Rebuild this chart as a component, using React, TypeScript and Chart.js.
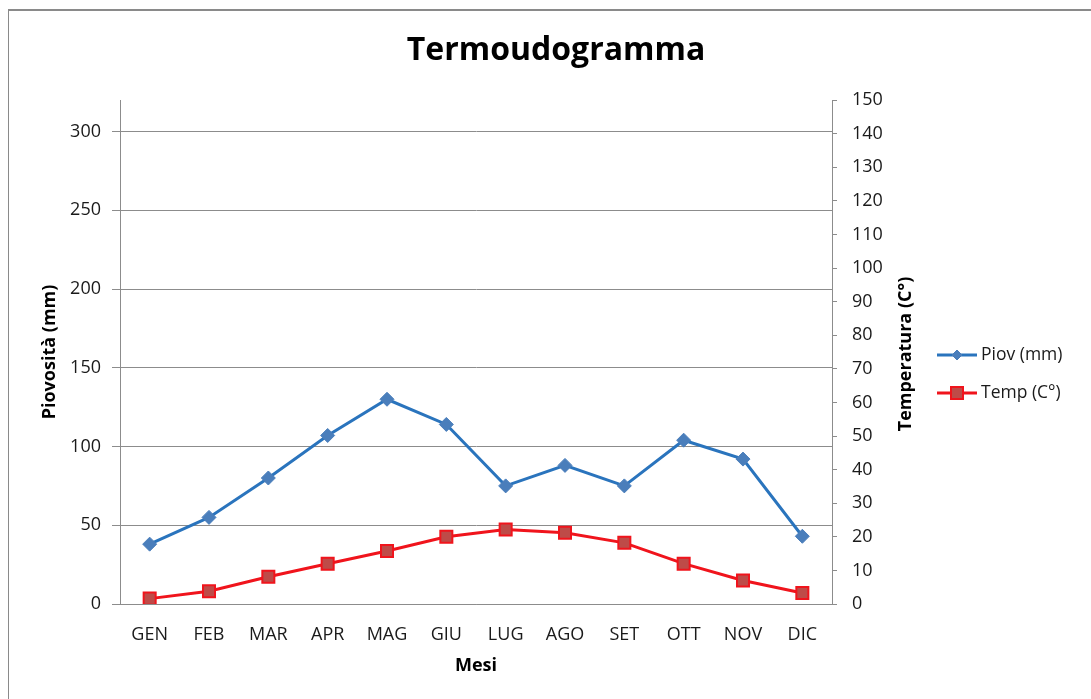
import React, { useEffect, useRef } from "react";
import { Chart, registerables } from "chart.js";

Chart.register(...registerables);

const months = ["GEN", "FEB", "MAR", "APR", "MAG", "GIU", "LUG", "AGO", "SET", "OTT", "NOV", "DIC"];
const piovValues = [38, 55, 80, 107, 130, 114, 75, 88, 75, 104, 92, 43];
const tempValues = [1.6, 3.8, 8.1, 12, 15.8, 20, 22.2, 21.2, 18.2, 12, 7, 3.3];
const seriesNames = ["Piov (mm)", "Temp (C°)"];
const titleText = "Termoudogramma";
const leftAxisTitle = "Piovosità (mm)";
const rightAxisTitle = "Temperatura (C°)";
const xAxisTitle = "Mesi";

const FONT = '"Open Sans", "DejaVu Sans", sans-serif';
const GRID = "#8c8c8c";
const TEXT = "#1a1a1a";

const decorPlugin = {
  id: "decor",
  afterDraw(chart: any) {
    const ctx = chart.ctx;
    ctx.save();
    // title
    ctx.fillStyle = "#000";
    ctx.font = `bold 32px ${FONT}`;
    ctx.textAlign = "center";
    ctx.textBaseline = "middle";
    ctx.fillText(titleText, 556, 51);
    // right axis title (rotated like Excel, reading bottom to top)
    ctx.save();
    ctx.translate(906, 354);
    ctx.rotate(-Math.PI / 2);
    ctx.font = `bold 18px ${FONT}`;
    ctx.fillText(rightAxisTitle, 0, 0);
    ctx.restore();
    // legend
    const x0 = 937;
    const ys = [355, 393];
    chart.data.datasets.forEach((ds: any, i: number) => {
      const y = ys[i];
      ctx.strokeStyle = ds.borderColor;
      ctx.lineWidth = 3;
      ctx.beginPath();
      ctx.moveTo(x0, y);
      ctx.lineTo(x0 + 40, y);
      ctx.stroke();
      ctx.fillStyle = ds.pointBackgroundColor;
      ctx.strokeStyle = ds.pointBorderColor;
      ctx.lineWidth = ds.pointBorderWidth;
      ctx.beginPath();
      if (ds.pointStyle === "rectRot") {
        const r = 5;
        ctx.moveTo(x0 + 20, y - r);
        ctx.lineTo(x0 + 20 + r, y);
        ctx.lineTo(x0 + 20, y + r);
        ctx.lineTo(x0 + 20 - r, y);
        ctx.closePath();
      } else {
        ctx.rect(x0 + 20 - 6, y - 6, 12, 12);
      }
      ctx.fill();
      ctx.stroke();
      ctx.fillStyle = TEXT;
      ctx.font = `17.5px ${FONT}`;
      ctx.textBaseline = "middle";
      ctx.textAlign = "left";
      ctx.fillText(ds.label, x0 + 44, y);
    });
    ctx.restore();
  },
};

export default function App() {
  const canvasRef = useRef<HTMLCanvasElement>(null);

  useEffect(() => {
    const canvas = canvasRef.current;
    if (!canvas) return;
    const chart = new Chart(canvas, {
      type: "line",
      data: {
        labels: months,
        datasets: [
          {
            label: seriesNames[0],
            data: piovValues,
            yAxisID: "y",
            borderColor: "#2a74bd",
            borderWidth: 3,
            pointStyle: "rectRot",
            pointRadius: 7,
            pointBackgroundColor: "#4a7ebb",
            pointBorderColor: "#4a7ebb",
            pointBorderWidth: 1,
            tension: 0,
          },
          {
            label: seriesNames[1],
            data: tempValues,
            yAxisID: "y1",
            borderColor: "#f0141c",
            borderWidth: 3,
            pointStyle: "rect",
            pointRadius: 8.5,
            pointBackgroundColor: "#be4b48",
            pointBorderColor: "#f0141c",
            pointBorderWidth: 2,
            tension: 0,
          },
        ],
      },
      options: {
        responsive: false,
        animation: false,
        layout: { padding: { left: 35, right: 170, top: 100, bottom: 18 } },
        plugins: {
          legend: { display: false },
          tooltip: { enabled: false },
          title: { display: false },
        },
        scales: {
          x: {
            type: "category",
            offset: true,
            grid: { display: false },
            border: { display: true, color: GRID, width: 1 },
            ticks: { color: TEXT, font: { family: FONT, size: 18 }, padding: 12, maxRotation: 0 },
            title: {
              display: true,
              text: xAxisTitle,
              color: "#000",
              font: { family: FONT, size: 18, weight: "bold", lineHeight: 1.2 },
              padding: { top: 4, bottom: 4 },
            },
            afterFit: (s: any) => {
              s.height = 77;
            },
          },
          y: {
            type: "linear",
            position: "left",
            min: 0,
            max: 320,
            ticks: { stepSize: 50, color: TEXT, font: { family: FONT, size: 18 }, padding: 11 },
            afterBuildTicks: (axis: any) => {
              axis.ticks = axis.ticks.filter((t: any) => t.value <= 300);
            },
            grid: { color: GRID, lineWidth: 1, tickLength: 8, drawTicks: true },
            border: { color: GRID, width: 1 },
            title: {
              display: true,
              text: leftAxisTitle,
              color: "#000",
              font: { family: FONT, size: 18, weight: "bold", lineHeight: 1.2 },
              padding: { top: 4, bottom: 4 },
            },
            afterFit: (s: any) => {
              s.width = 85;
            },
          },
          y1: {
            type: "linear",
            position: "right",
            min: 0,
            max: 150,
            ticks: { stepSize: 10, color: TEXT, font: { family: FONT, size: 18 }, padding: 15 },
            grid: { drawOnChartArea: false, color: GRID, tickLength: 5, drawTicks: true },
            border: { color: GRID, width: 1 },
            title: { display: false },
            afterFit: (s: any) => {
              s.width = 89;
            },
          },
        },
      },
      plugins: [decorPlugin],
    });
    return () => chart.destroy();
  }, []);

  return (
    <div style={{ position: "absolute", left: 0, top: 0, width: 1091, height: 699, background: "#fff", overflow: "hidden" }}>
      <canvas ref={canvasRef} width={1091} height={699} style={{ position: "absolute", left: 0, top: 0 }} />
      <div
        style={{
          position: "absolute",
          left: 8,
          top: 9,
          width: 1200,
          height: 800,
          borderLeft: "1px solid #8a8a8a",
          borderTop: "2px solid #8a8a8a",
          pointerEvents: "none",
        }}
      />
    </div>
  );
}
